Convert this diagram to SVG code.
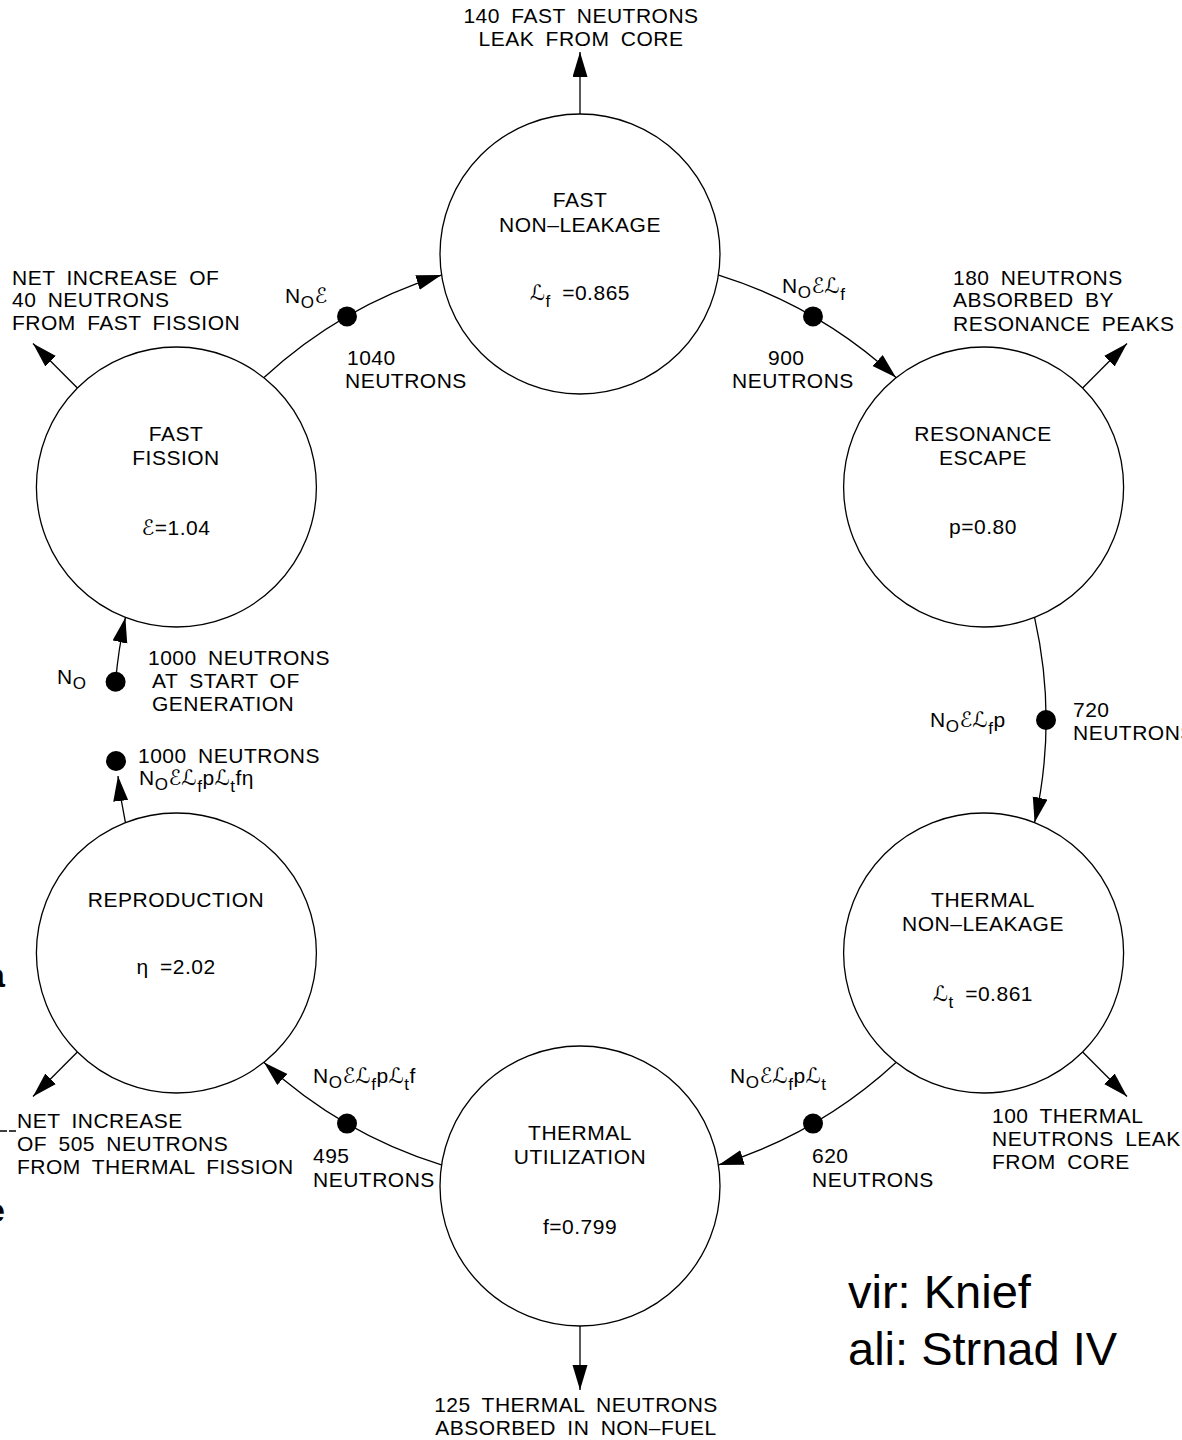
<svg xmlns="http://www.w3.org/2000/svg" width="1182" height="1440" viewBox="0 0 1182 1440">
<style>
.t{font-family:"Liberation Sans","DejaVu Sans",sans-serif;font-size:21px;letter-spacing:0.5px;word-spacing:5px;fill:#000}
.m{text-anchor:middle}
.s{font-size:17px}
.big{font-family:"Liberation Sans",Arial,sans-serif;font-size:47px;fill:#000}
.c{fill:#fff;stroke:#000;stroke-width:1.3}
.ln{fill:none;stroke:#000;stroke-width:1.3}
.dot{fill:#000}
</style>
<defs>
<marker id="ah" markerWidth="26" markerHeight="16" refX="25" refY="7.5" orient="auto" markerUnits="userSpaceOnUse">
<path d="M0,0 L25,7.5 L0,15 Z" fill="#000"/>
</marker>
</defs>
<rect width="1182" height="1440" fill="#fff"/>

<g id="connectors">
<path class="ln" d="M264,377.5 A466,466 0 0 1 441.4,275.1" marker-end="url(#ah)"/>
<path class="ln" d="M718.6,275.1 A466,466 0 0 1 896,377.5" marker-end="url(#ah)"/>
<path class="ln" d="M1034.6,617.6 A466,466 0 0 1 1034.6,822.4" marker-end="url(#ah)"/>
<path class="ln" d="M896,1062.5 A466,466 0 0 1 718.6,1164.9" marker-end="url(#ah)"/>
<path class="ln" d="M441.4,1164.9 A466,466 0 0 1 264,1062.5" marker-end="url(#ah)"/>
<path class="ln" d="M125.4,822.4 A466,466 0 0 1 118,776" marker-end="url(#ah)"/>
<path class="ln" d="M115.6,681.8 A466,466 0 0 1 125.4,617.6" marker-end="url(#ah)"/>
<path class="ln" d="M580,114 L580,52" marker-end="url(#ah)"/>
<path class="ln" d="M77.4,388 L33,343.5" marker-end="url(#ah)"/>
<path class="ln" d="M1082.6,388 L1127,343.5" marker-end="url(#ah)"/>
<path class="ln" d="M1082.6,1052 L1127,1096.5" marker-end="url(#ah)"/>
<path class="ln" d="M77.4,1052 L33,1096.5" marker-end="url(#ah)"/>
<path class="ln" d="M580,1326 L580,1390" marker-end="url(#ah)"/>
<circle class="dot" cx="347" cy="316.4" r="10"/>
<circle class="dot" cx="813" cy="316.4" r="10"/>
<circle class="dot" cx="1046" cy="720" r="10"/>
<circle class="dot" cx="813" cy="1123.6" r="10"/>
<circle class="dot" cx="347" cy="1123.6" r="10"/>
<circle class="dot" cx="115.6" cy="681.8" r="10"/>
<circle class="dot" cx="116" cy="761" r="10"/>
</g>

<g id="fast-non-leakage">
<circle class="c" cx="580" cy="254" r="140"/>
<text class="t m" x="580" y="207">FAST</text>
<text class="t m" x="580" y="232">NON–LEAKAGE</text>
<text class="t m" x="580" y="300">ℒ<tspan class="s" dy="7">f</tspan><tspan dy="-7"> =0.865</tspan></text>
</g>

<g id="resonance-escape">
<circle class="c" cx="983.6" cy="487" r="140"/>
<text class="t m" x="983" y="441">RESONANCE</text>
<text class="t m" x="983" y="465">ESCAPE</text>
<text class="t m" x="983" y="534">p=0.80</text>
</g>

<g id="thermal-non-leakage">
<circle class="c" cx="983.6" cy="953" r="140"/>
<text class="t m" x="983" y="907">THERMAL</text>
<text class="t m" x="983" y="931">NON–LEAKAGE</text>
<text class="t m" x="983" y="1001">ℒ<tspan class="s" dy="7">t</tspan><tspan dy="-7"> =0.861</tspan></text>
</g>

<g id="thermal-utilization">
<circle class="c" cx="580" cy="1186" r="140"/>
<text class="t m" x="580" y="1140">THERMAL</text>
<text class="t m" x="580" y="1164">UTILIZATION</text>
<text class="t m" x="580" y="1234">f=0.799</text>
</g>

<g id="reproduction">
<circle class="c" cx="176.4" cy="953" r="140"/>
<text class="t m" x="176" y="907">REPRODUCTION</text>
<text class="t m" x="176" y="974">η =2.02</text>
</g>

<g id="fast-fission">
<circle class="c" cx="176.4" cy="487" r="140"/>
<text class="t m" x="176" y="441">FAST</text>
<text class="t m" x="176" y="465">FISSION</text>
<text class="t m" x="176" y="535">ℰ=1.04</text>
</g>

<g id="labels">
<text class="t m" x="581" y="23">140 FAST NEUTRONS</text>
<text class="t m" x="581" y="46">LEAK FROM CORE</text>

<text class="t" x="12" y="285">NET INCREASE OF</text>
<text class="t" x="12" y="307">40 NEUTRONS</text>
<text class="t" x="12" y="330">FROM FAST FISSION</text>

<text class="t" x="285" y="303">N<tspan class="s" dy="5">O</tspan><tspan dy="-5">ℰ</tspan></text>
<text class="t" x="347" y="365">1040</text>
<text class="t" x="345" y="388">NEUTRONS</text>

<text class="t" x="782" y="293">N<tspan class="s" dy="5">O</tspan><tspan dy="-5">ℰℒ</tspan><tspan class="s" dy="7">f</tspan></text>
<text class="t" x="768" y="365">900</text>
<text class="t" x="732" y="388">NEUTRONS</text>

<text class="t" x="953" y="285">180 NEUTRONS</text>
<text class="t" x="953" y="307">ABSORBED BY</text>
<text class="t" x="953" y="331">RESONANCE PEAKS</text>

<text class="t" x="57" y="684">N<tspan class="s" dy="5">O</tspan></text>
<text class="t" x="148" y="665">1000 NEUTRONS</text>
<text class="t" x="152" y="688">AT START OF</text>
<text class="t" x="152" y="711">GENERATION</text>

<text class="t" x="138" y="763">1000 NEUTRONS</text>
<text class="t" x="139" y="785">N<tspan class="s" dy="5">O</tspan><tspan dy="-5">ℰℒ</tspan><tspan class="s" dy="7">f</tspan><tspan dy="-7">pℒ</tspan><tspan class="s" dy="7">t</tspan><tspan dy="-7">fη</tspan></text>

<text class="t" x="930" y="727">N<tspan class="s" dy="5">O</tspan><tspan dy="-5">ℰℒ</tspan><tspan class="s" dy="7">f</tspan><tspan dy="-7">p</tspan></text>
<text class="t" x="1073" y="717">720</text>
<text class="t" x="1073" y="740">NEUTRONS</text>

<text class="t" x="730" y="1083">N<tspan class="s" dy="5">O</tspan><tspan dy="-5">ℰℒ</tspan><tspan class="s" dy="7">f</tspan><tspan dy="-7">pℒ</tspan><tspan class="s" dy="7">t</tspan></text>
<text class="t" x="812" y="1163">620</text>
<text class="t" x="812" y="1187">NEUTRONS</text>

<text class="t" x="992" y="1123">100 THERMAL</text>
<text class="t" x="992" y="1146">NEUTRONS LEAK</text>
<text class="t" x="992" y="1169">FROM CORE</text>

<text class="t" x="313" y="1083">N<tspan class="s" dy="5">O</tspan><tspan dy="-5">ℰℒ</tspan><tspan class="s" dy="7">f</tspan><tspan dy="-7">pℒ</tspan><tspan class="s" dy="7">t</tspan><tspan dy="-7">f</tspan></text>
<text class="t" x="313" y="1163">495</text>
<text class="t" x="313" y="1187">NEUTRONS</text>

<text class="t" x="17" y="1128">NET INCREASE</text>
<text class="t" x="17" y="1151">OF 505 NEUTRONS</text>
<text class="t" x="17" y="1174">FROM THERMAL FISSION</text>
<path d="M0,1131 L17,1131" stroke="#000" stroke-width="1.5" stroke-dasharray="7,2"/>

<text class="t m" x="576" y="1412">125 THERMAL NEUTRONS</text>
<text class="t m" x="576" y="1435">ABSORBED IN NON–FUEL</text>

<text class="big" x="848" y="1308">vir: Knief</text>
<text class="big" x="848" y="1365">ali: Strnad IV</text>
<text x="-14" y="987" style="font-family:'Liberation Sans',sans-serif;font-size:34px;font-weight:bold">a</text>
<text x="-14" y="1222" style="font-family:'Liberation Sans',sans-serif;font-size:34px;font-weight:bold">e</text>
</g>
</svg>
